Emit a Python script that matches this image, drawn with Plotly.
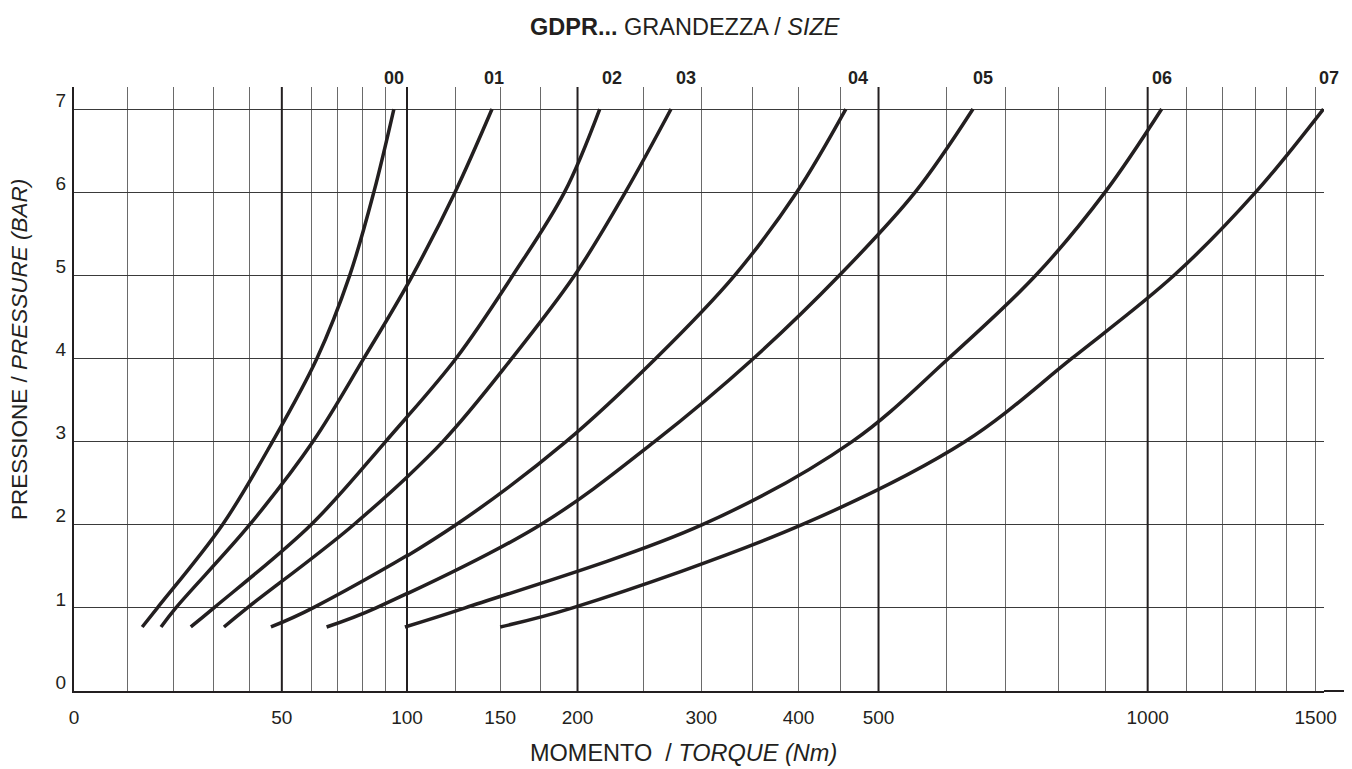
import math
import plotly.graph_objects as go

# ---------------- data ----------------
PRESSURE = [0.77, 1, 2, 3, 4, 5, 6, 7]          # bar
SIZES = ["00", "01", "02", "03", "04", "05", "06", "07"]
T00 = [13.0, 16.3, 32.3, 47.0, 62.1, 74.7, 84.8, 93.8]      # Nm
T01 = [17.1, 20.5, 40.0, 60.7, 80.5, 102.7, 124.5, 145.2]
T02 = [24.1, 30.0, 60.0, 90.0, 125.0, 157.6, 191.0, 216.0]
T03 = [32.7, 39.3, 76.3, 118.0, 157.0, 198.0, 235.5, 273.0]
T04 = [46.5, 60.7, 125.0, 192.0, 260.0, 332.0, 398.0, 457.0]
T05 = [65.7, 85.8, 175.0, 259.0, 351.0, 449.0, 552.0, 643.0]
T06 = [99.0, 130.0, 301.0, 465.0, 603.0, 756.0, 900.0, 1035.0]
T07 = [150.0, 196.5, 404.0, 630.0, 828.0, 1067.0, 1300.0, 1528.0]
SERIES = [T00, T01, T02, T03, T04, T05, T06, T07]

GRID_LOW = [0, 10, 20, 30, 40, 50, 60, 70, 80, 90]
GRID_HIGH = [100, 125, 150, 175, 200, 250, 300, 350, 400, 450, 500, 600, 700,
             800, 900, 1000, 1100, 1200, 1300, 1400, 1500]
TICK_LABELS = [0, 50, 100, 150, 200, 300, 400, 500, 1000, 1500]
MAJOR_GRID = [50, 100, 200, 500, 1000]
Y_TICKS = [0, 1, 2, 3, 4, 5, 6, 7]

# ---------------- scale set-up (the chart uses a compressed torque scale) ----------------
SPLIT = 100           # torque where the two log(x + c) segments meet
OFF1, OFF2 = 55, 120  # offsets of the two segments
X_MAX = 1530
Y_TOP = 7.265
DOM_SPLIT = 333 / 1250

INK = "#231f20"
FONT = "Liberation Sans, Arial, Helvetica, sans-serif"
LABEL_NUDGE = [0, 2, 12, 15, 12, 10, 0, 6]

fig = go.Figure()

# heavier grid lines
for v in MAJOR_GRID:
    refs = []
    if v <= SPLIT:
        refs.append(("x", OFF1))
    if v >= SPLIT:
        refs.append(("x2", OFF2))
    for ax, off in refs:
        fig.add_trace(go.Scatter(
            x=[v + off, v + off], y=[0, Y_TOP], xaxis=ax, yaxis="y",
            mode="lines", line=dict(color=INK, width=2),
            hoverinfo="skip", showlegend=False))

# curves (each drawn on both segments; every segment clips to its own domain)
for name, t in zip(SIZES, SERIES):
    for ax, off in (("x", OFF1), ("x2", OFF2)):
        if ax == "x" and min(t) >= SPLIT:
            continue
        if ax == "x2" and max(t) < SPLIT:
            continue
        fig.add_trace(go.Scatter(
            x=[v + off for v in t], y=PRESSURE, xaxis=ax, yaxis="y",
            mode="lines", name=name,
            line=dict(color=INK, width=3.5, shape="spline", smoothing=1.0),
            hoverinfo="skip", showlegend=False))

tickfont = dict(family=FONT, size=19, color=INK)
common_x = dict(type="log", showgrid=True, gridcolor="#6a6a6a", gridwidth=1,
                showline=True, linecolor=INK, linewidth=2, ticks="",
                zeroline=False, anchor="y", tickfont=tickfont, automargin=False,
                tickmode="array", ticklabelstandoff=8)

# the page body adds an 8 px offset, so the figure is 8 px smaller each way
fig.update_layout(
    template="none",
    width=1344, height=761,
    margin=dict(l=66, r=28, t=79, b=78, autoexpand=False),
    paper_bgcolor="white", plot_bgcolor="white",
    showlegend=False,
    xaxis=dict(domain=[0, DOM_SPLIT],
               range=[math.log10(OFF1), math.log10(SPLIT + OFF1)],
               tickvals=[v + OFF1 for v in GRID_LOW],
               ticktext=[str(v) if v in TICK_LABELS else "" for v in GRID_LOW],
               **common_x),
    xaxis2=dict(domain=[DOM_SPLIT, 1],
                range=[math.log10(SPLIT + OFF2), math.log10(X_MAX + OFF2)],
                tickvals=[v + OFF2 for v in GRID_HIGH],
                ticktext=[str(v) if v in TICK_LABELS else "" for v in GRID_HIGH],
                **common_x),
    yaxis=dict(range=[0, Y_TOP], tickmode="array", tickvals=Y_TICKS,
               showgrid=True, gridcolor="#3a3a3a", gridwidth=1,
               showline=True, linecolor=INK, linewidth=2, ticks="",
               zeroline=False, anchor="x", tickfont=tickfont, automargin=False,
               ticklabelstandoff=2, ticklabelshift=-9),
)

annotations = [
    dict(text="<b>GDPR...</b> GRANDEZZA / <i>SIZE</i>", xref="paper", yref="paper",
         x=(685 - 74) / 1250, y=1, yshift=60, xanchor="center", yanchor="middle",
         showarrow=False, font=dict(family=FONT, size=23.5, color=INK)),
    dict(text="MOMENTO  / <i>TORQUE (Nm)</i>", xref="paper", yref="paper",
         x=(683.5 - 74) / 1250, y=0, yshift=-62, xanchor="center", yanchor="middle",
         showarrow=False, font=dict(family=FONT, size=23.5, color=INK)),
    dict(text="PRESSIONE / <i>PRESSURE (BAR)</i>", xref="paper", yref="paper",
         x=0, xshift=-54, y=(691 - 350) / 604, xanchor="center", yanchor="middle",
         textangle=-90, showarrow=False, font=dict(family=FONT, size=22.5, color=INK)),
]
for name, t, nudge in zip(SIZES, SERIES, LABEL_NUDGE):
    top = t[-1]
    if top < SPLIT:
        xr, xv = "x", math.log10(top + OFF1)
    else:
        xr, xv = "x2", math.log10(top + OFF2)
    annotations.append(dict(
        text=f"<b>{name}</b>", xref=xr, yref="paper", x=xv, y=1,
        xshift=nudge, yshift=9, xanchor="center", yanchor="middle",
        showarrow=False, font=dict(family=FONT, size=18, color=INK)))

fig.update_layout(annotations=annotations)
fig.add_shape(type="line", xref="paper", yref="paper", x0=1, x1=1 + 28 / 1250,
              y0=0, y1=0, line=dict(color=INK, width=2))

fig.write_html("out.html")
